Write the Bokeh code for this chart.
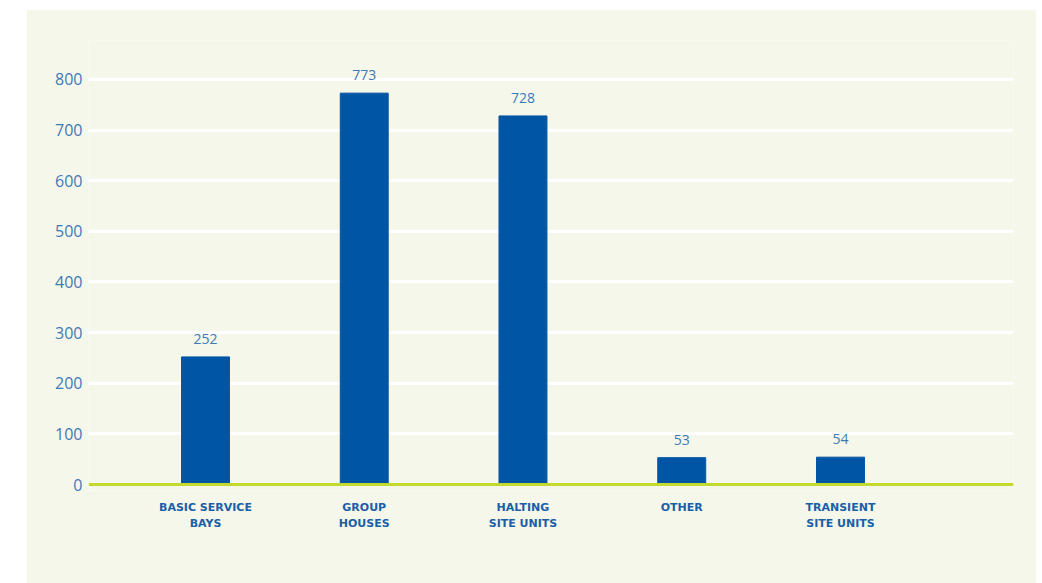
from bokeh.plotting import figure
from bokeh.models import Range1d, FixedTicker, Span, ColumnDataSource
from bokeh.core.properties import value
from bokeh.embed import file_html
from bokeh.resources import INLINE

categories = ["BASIC SERVICE\nBAYS", "GROUP\nHOUSES", "HALTING\nSITE UNITS", "OTHER", "TRANSIENT\nSITE UNITS"]
counts = [252, 773, 728, 53, 54]
y_ticks = [0, 100, 200, 300, 400, 500, 600, 700, 800]

BG = "#f5f7ea"
BAR = "#0055a4"
LBL = "#3d7ab8"
CAT = "#1a5ea8"

xs = list(range(len(categories)))
src = ColumnDataSource(dict(x=xs, top=counts, lab=[str(c) for c in counts]))

p = figure(width=1010, height=574, output_backend="svg", toolbar_location=None,
           x_range=Range1d(-0.737, 5.09), y_range=Range1d(-11.85, 877),
           background_fill_color=BG, border_fill_color=BG,
           min_border_left=62, min_border_right=23, min_border_top=31, min_border_bottom=93)
p.margin = (9, 6, 0, 26)
p.outline_line_color = None

p.vbar(x="x", top="top", width=0.302, bottom=0, source=src, color=BAR)
p.text(x="x", y="top", text="lab", source=src, text_align="center", text_baseline="bottom",
       y_offset=-13, text_color=LBL, text_font=value("Open Sans"), text_font_size="14px")

p.add_layout(Span(location=0, dimension="width", line_color="#c4d92e", line_width=3))

p.xgrid.grid_line_color = None
p.ygrid.ticker = FixedTicker(ticks=y_ticks[1:])
p.ygrid.grid_line_color = "white"
p.ygrid.grid_line_width = 3

ya = p.yaxis[0]
ya.ticker = FixedTicker(ticks=y_ticks)
ya.axis_line_color = None
ya.major_tick_line_color = None
ya.minor_tick_line_color = None
ya.major_label_standoff = 0
ya.major_label_text_color = LBL
ya.major_label_text_font = "Open Sans"
ya.major_label_text_font_size = "16px"

xa = p.xaxis[0]
xa.ticker = FixedTicker(ticks=xs)
xa.major_label_overrides = {i: c for i, c in zip(xs, categories)}
xa.axis_line_color = None
xa.major_tick_line_color = None
xa.minor_tick_line_color = None
xa.major_label_standoff = 4
xa.major_label_text_color = CAT
xa.major_label_text_font = "DejaVu Sans"
xa.major_label_text_font_style = "bold"
xa.major_label_text_font_size = "11px"
xa.major_label_text_line_height = 1.3

open("out.html", "w").write(file_html(p, INLINE))
